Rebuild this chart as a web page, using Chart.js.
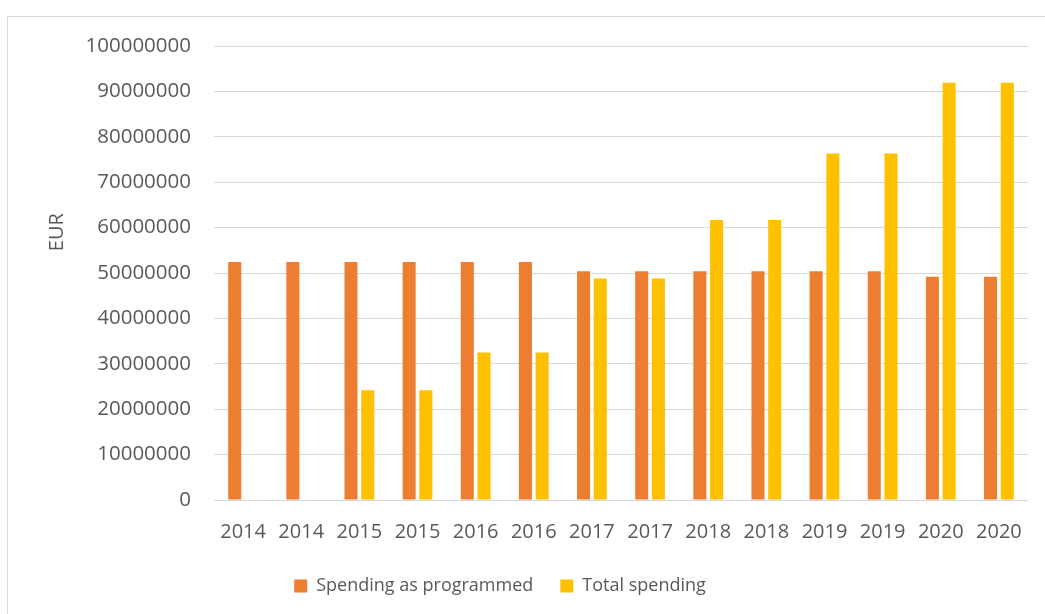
<!DOCTYPE html>
<html>
<head>
<meta charset="utf-8">
<title>Spending</title>
<script src="https://cdn.jsdelivr.net/npm/chart.js@4"></script>
<style>
  html, body { margin: 0; padding: 0; background: #fff; overflow: hidden; }
  body { width: 1045px; height: 614px; position: relative; }
  .frame {
    position: absolute; left: 7px; top: 16px;
    width: 1100px; height: 700px;
    border: 1px solid #d9d9d9; box-sizing: border-box;
  }
  /* canvas starts a little left of the page so the legend centres under the bars */
  .chart-wrap { position: absolute; left: -28px; top: 0; width: 1073px; height: 614px; }
</style>
</head>
<body>
<div class="frame"></div>
<div class="chart-wrap"><canvas id="spendingChart"></canvas></div>
<script>
// Two bars per year: programmed amount vs. what was actually spent (EUR)
const years = ['2014', '2014', '2015', '2015', '2016', '2016', '2017', '2017',
               '2018', '2018', '2019', '2019', '2020', '2020'];
const programmed = [52400000, 52400000, 52400000, 52400000, 52400000, 52400000, 50400000,
                    50400000, 50400000, 50400000, 50400000, 50400000, 49200000, 49200000];
const totalSpending = [0, 0, 24200000, 24200000, 32500000, 32500000, 48800000,
                       48800000, 61700000, 61700000, 76300000, 76300000, 91900000, 91900000];
const yMax = 100000000;
const yStep = 10000000;

const textColor = '#595959';
const gridColor = '#d9d9d9';
const fontFamily = '"Open Sans", sans-serif';
const canvasShift = 28;

// rotated axis caption, sitting a bit above the middle of the value axis
const axisCaption = {
  id: 'axisCaption',
  afterDraw(chart) {
    const { ctx, chartArea } = chart;
    const y = chartArea.top + (chartArea.bottom - chartArea.top) * 0.41;
    ctx.save();
    ctx.translate(57 + canvasShift, y);
    ctx.rotate(-Math.PI / 2);
    ctx.font = '20px ' + fontFamily;
    ctx.fillStyle = textColor;
    ctx.textAlign = 'center';
    ctx.textBaseline = 'middle';
    ctx.fillText('EUR', 0, 0);
    ctx.restore();
  }
};

new Chart(document.getElementById('spendingChart'), {
  type: 'bar',
  data: {
    labels: years,
    datasets: [{
      label: 'Spending as programmed',
      data: programmed,
      backgroundColor: '#ed7d31',
      categoryPercentage: 0.575,
      barPercentage: 0.78
    }, {
      label: 'Total spending',
      data: totalSpending,
      backgroundColor: '#ffc000',
      categoryPercentage: 0.575,
      barPercentage: 0.78
    }]
  },
  options: {
    responsive: true,
    maintainAspectRatio: false,
    animation: false,
    layout: { padding: { left: 0, top: 46, right: 17, bottom: 9 } },
    scales: {
      x: {
        grid: { display: false, drawTicks: false },
        border: { display: false },
        ticks: { color: textColor, font: { family: fontFamily, size: 20 }, padding: 20, maxRotation: 0, autoSkip: false },
        afterFit(scale) { scale.height = 50; }
      },
      y: {
        min: 0,
        max: yMax,
        grid: { color: gridColor, lineWidth: 1, drawTicks: false },
        border: { display: false },
        ticks: {
          stepSize: yStep,
          padding: 23,
          color: textColor,
          font: { family: fontFamily, size: 20.5 },
          callback: v => String(v)
        },
        afterFit(scale) { scale.width = 214 + canvasShift; }
      }
    },
    plugins: {
      legend: {
        position: 'bottom',
        labels: {
          color: textColor,
          font: { family: fontFamily, size: 18 },
          boxWidth: 13,
          boxHeight: 13,
          padding: 27
        }
      },
      tooltip: { enabled: false }
    }
  },
  plugins: [axisCaption]
});
</script>
</body>
</html>
